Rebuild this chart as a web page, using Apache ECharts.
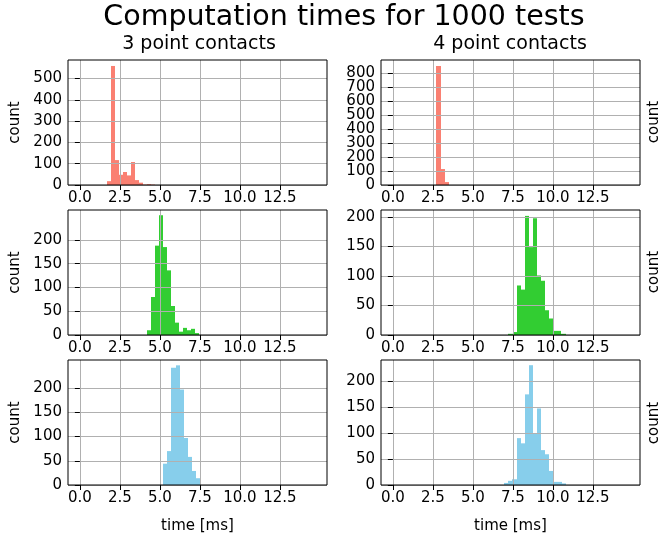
<!DOCTYPE html>
<html>
<head>
<meta charset="utf-8">
<script src="https://cdn.jsdelivr.net/npm/echarts@6/dist/echarts.min.js"></script>
<style>
  html, body { margin: 0; padding: 0; background: #fff; }
  #main { width: 658px; height: 537px; }
</style>
</head>
<body>
<div id="main"></div>
<script>
// x axis (time in ms), shared by all panels
var xMin = -0.74, xMax = 15.44;
var xTicks = [0, 2.5, 5, 7.5, 10, 12.5];

// row 1 (salmon)
var start3a = 1.71, width3a = 0.25;
var counts3a = [18, 559, 117, 48, 61, 45, 108, 23, 11, 2, 4, 2];
var start4a = 2.71, width4a = 0.275;
var counts4a = [850, 114, 21];

// row 2 (green)
var start3b = 4.2, width3b = 0.25;
var counts3b = [10, 80, 188, 252, 185, 136, 61, 26, 7, 15, 10, 13, 4];
var start4b = 7.22, width4b = 0.255;
var counts4b = [2, 5, 84, 77, 202, 149, 198, 101, 92, 42, 28, 7, 7, 2];

// row 3 (blue)
var start3c = 5.21, width3c = 0.257;
var counts3c = [44, 70, 242, 247, 197, 97, 58, 29, 14];
var start4c = 6.96, width4c = 0.256;
var counts4c = [4, 8, 11, 90, 80, 174, 230, 99, 147, 67, 59, 27, 6, 6, 3];

// y ticks / limits per panel
var yTicks1 = [0, 100, 200, 300, 400, 500];
// listed out of order so the end-label overlap check keeps every label
var yTicks2 = [0, 200, 100, 300, 400, 500, 700, 600, 800];
var yTicks50 = [0, 50, 100, 150, 200];
var yMax = [587, 893, 263, 212, 258, 240];

var chart = echarts.init(document.getElementById('main'));

function bins(start, width, counts) {
    return counts.map(function(c, i) {
        return [start + i * width, start + (i + 1) * width, c];
    });
}

function renderBar(params, api) {
    var a = api.coord([api.value(0), api.value(2)]);
    var b = api.coord([api.value(1), 0]);
    var x0 = Math.round(a[0]), x1 = Math.round(b[0]);
    return {
        type: 'rect',
        shape: { x: x0, y: a[1], width: x1 - x0, height: b[1] - a[1] },
        style: { fill: api.visual('color') }
    };
}

var panels = [
    { left: 68, top: 60, data: bins(start3a, width3a, counts3a), color: '#fa8072', yt: yTicks1 },
    { left: 381, top: 60, data: bins(start4a, width4a, counts4a), color: '#fa8072', yt: yTicks2 },
    { left: 68, top: 210, data: bins(start3b, width3b, counts3b), color: '#32cd32', yt: yTicks50 },
    { left: 381, top: 210, data: bins(start4b, width4b, counts4b), color: '#32cd32', yt: yTicks50 },
    { left: 68, top: 360, data: bins(start3c, width3c, counts3c), color: '#87ceeb', yt: yTicks50 },
    { left: 381, top: 360, data: bins(start4c, width4c, counts4c), color: '#87ceeb', yt: yTicks50 }
];

var font = 'DejaVu Sans';
var grids = [], xAxes = [], yAxes = [], series = [];

panels.forEach(function(p, i) {
    grids.push({
        left: p.left, top: p.top, width: 259, height: 125,
        show: true, borderColor: '#000', borderWidth: 1,
        backgroundColor: 'transparent', z: 5
    });
    xAxes.push({
        gridIndex: i, type: 'value', min: xMin, max: xMax, z: 3,
        name: i >= 4 ? 'time [ms]' : '',
        nameLocation: 'middle', nameGap: 34,
        nameTextStyle: { fontFamily: font, fontSize: 15, color: '#000' },
        axisLine: { show: false },
        axisTick: { customValues: xTicks, length: 5, lineStyle: { color: '#000' } },
        axisLabel: {
            customValues: xTicks, margin: 6, hideOverlap: false,
            showMinLabel: true, showMaxLabel: true,
            fontFamily: font, fontSize: 15, color: '#000',
            formatter: function(v) { return v.toFixed(1); }
        },
        splitLine: { show: true, lineStyle: { color: '#b0b0b0', width: 1 } }
    });
    yAxes.push({
        gridIndex: i, type: 'value', min: 0, max: yMax[i], z: 3,
        name: i % 2 === 0 ? 'count' : '',
        nameLocation: 'middle', nameGap: 45, nameRotate: 90,
        nameTextStyle: { fontFamily: font, fontSize: 15, color: '#000' },
        axisLine: { show: false },
        axisTick: { customValues: p.yt, length: 5, lineStyle: { color: '#000' } },
        axisLabel: {
            customValues: p.yt, margin: 6, hideOverlap: false,
            showMinLabel: true, showMaxLabel: true,
            fontFamily: font, fontSize: 15, color: '#000'
        },
        splitLine: { show: true, lineStyle: { color: '#b0b0b0', width: 1 } }
    });
    series.push({
        type: 'custom', xAxisIndex: i, yAxisIndex: i, z: 1,
        renderItem: renderBar, itemStyle: { color: p.color },
        encode: { x: [0, 1], y: 2 }, clip: true, silent: true,
        data: p.data
    });
});

var texts = [
    { x: 344, y: 18, text: 'Computation times for 1000 tests', size: 28.5 },
    { x: 199, y: 44, text: '3 point contacts', size: 19 },
    { x: 510, y: 44, text: '4 point contacts', size: 19 }
];
var graphics = texts.map(function(t) {
    return {
        type: 'text', x: t.x, y: t.y,
        style: { text: t.text, fontFamily: font, fontSize: t.size, fill: '#000',
                 textAlign: 'center', textVerticalAlign: 'middle' }
    };
});
[122, 272, 423].forEach(function(cy) {
    graphics.push({
        type: 'text', x: 654, y: cy, rotation: Math.PI / 2,
        style: { text: 'count', fontFamily: font, fontSize: 15, fill: '#000',
                 textAlign: 'center', textVerticalAlign: 'middle' }
    });
});

chart.setOption({
    animation: false,
    grid: grids,
    xAxis: xAxes,
    yAxis: yAxes,
    series: series,
    graphic: graphics
});
</script>
</body>
</html>
